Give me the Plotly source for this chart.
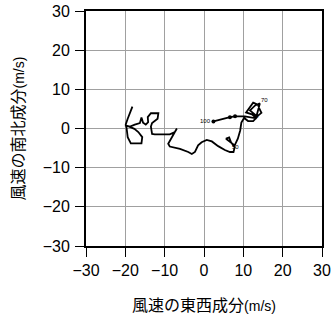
import plotly.graph_objects as go

# Hodograph trace (east-west u, north-south v components, m/s)
u = [-18.2, -18.8, -19.4, -19.9, -19.7, -19.4, -18.6, -15.9, -15.7, -16.7, -17.7, -19.3, -20.1,
     -18.8, -17.6, -16.3, -15.9, -15.5, -14.8, -14.2, -14.3, -13.5, -11.6, -11.8, -13.2, -13.5,
     -13.2, -12.5, -9.9, -8.7, -7.4, -6.9, -7.6, -9.1, -8.7, -6.1, -4.0, -3.1, -2.3, -1.5, -0.6,
     0.7, 2.0, 3.6, 5.3, 6.6, 7.5, 7.8, 7.1, 5.6, 6.4, 6.9, 7.8, 8.6, 9.2, 9.5, 10.2, 11.2, 12.5,
     13.3, 12.2, 10.7, 12.5, 13.7, 14.2, 14.6, 13.5, 11.7, 13.0, 14.2, 13.2, 10.4, 7.9, 6.6, 2.4]
v = [5.6, 4.2, 2.5, 1.0, 0.3, -2.2, -3.8, -3.8, -2.2, -0.9, -0.1, 0.6, 0.8,
     0.5, 1.0, 1.4, 2.8, 1.5, 1.0, 1.6, 2.9, 3.9, 3.9, 2.5, 1.4, 0.5,
     -1.4, -1.5, -1.5, -1.5, -0.9, 0.0, -1.3, -3.9, -4.6, -5.2, -6.0, -6.5, -6.0, -4.3, -3.5,
     -2.9, -3.3, -4.5, -5.5, -6.0, -6.0, -4.8, -3.8, -2.6, -2.3, -3.6, -4.3, -2.6, -0.5, 1.5, 2.7,
     1.9, 1.9, 2.7, 3.6, 4.1, 6.6, 6.1, 4.8, 4.0, 3.1, 4.6, 5.9, 6.4, 2.6, 3.1, 3.1, 2.9, 1.8]

# Level labels
label_text = ["100", "70", "50", "30"]
label_u = [2.2, 15.3, 7.9, 13.1]
label_v = [1.8, 7.4, -4.6, 3.1]
label_anchor = ["right", "center", "center", "center"]

# Marked points
dot_u = [2.4, 6.6, 7.9]
dot_v = [1.8, 2.9, 3.1]

ticks = [-30, -20, -10, 0, 10, 20, 30]
tick_labels = ["\u221230", "\u221220", "\u221210", "0", "10", "20", "30"]

fig = go.Figure()
fig.add_trace(go.Scatter(x=u, y=v, mode="lines",
                         line=dict(color="black", width=1.8), hoverinfo="skip"))
fig.add_trace(go.Scatter(x=dot_u, y=dot_v, mode="markers",
                         marker=dict(color="black", size=4), hoverinfo="skip"))
for t, xx, yy, a in zip(label_text, label_u, label_v, label_anchor):
    fig.add_annotation(x=xx, y=yy, text=t, showarrow=False, xanchor=a, yanchor="middle",
                       font=dict(size=6, color="black", family="Liberation Sans"))

axis_common = dict(range=[-30, 30], tickmode="array", tickvals=ticks, ticktext=tick_labels,
                   showgrid=True, gridcolor="#a0a0a0", gridwidth=1, zeroline=False,
                   showline=True, linecolor="black", linewidth=2, mirror=True,
                   ticks="outside", ticklen=9, tickwidth=1, tickcolor="black", automargin=False,
                   tickfont=dict(size=16, color="black", family="Liberation Sans"))

fig.update_xaxes(**axis_common,
                 title=dict(text="風速の東西成分<span style='font-size:14px;font-family:Liberation Sans'>(m/s)</span>",
                            font=dict(size=16, color="black", family="Noto Sans CJK JP"),
                            standoff=22))
fig.update_yaxes(**axis_common, ticklabelstandoff=2,
                 title=dict(text="風速の南北成分<span style='font-size:14px;font-family:Liberation Sans'>(m/s)</span>",
                            font=dict(size=16, color="black", family="Noto Sans CJK JP"),
                            standoff=14))

fig.update_layout(width=332, height=319, margin=dict(l=86, r=10, t=11, b=73),
                  plot_bgcolor="white", paper_bgcolor="white", showlegend=False)

fig.write_html("out.html")
